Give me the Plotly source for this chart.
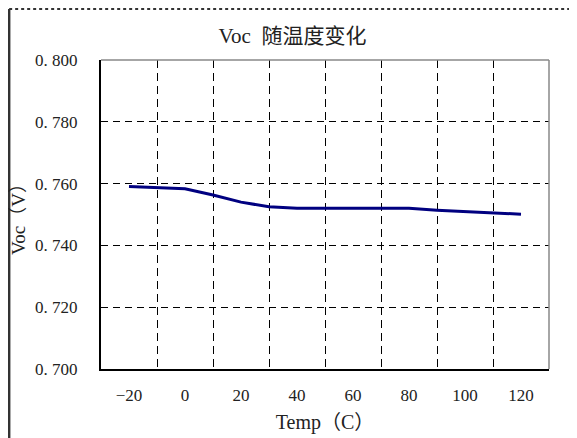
import plotly.graph_objects as go

# temperature sweep and open-circuit voltage
temps = [-20, -10, 0, 10, 20, 30, 40, 50, 60, 70, 80, 90, 100, 110, 120]
voc = [0.7591, 0.7587, 0.7583, 0.7563, 0.7540, 0.7525, 0.7520, 0.7520,
       0.7520, 0.7520, 0.7520, 0.7514, 0.7510, 0.7506, 0.7501]

x_ticks = [-20, 0, 20, 40, 60, 80, 100, 120]
x_grid = [-10, 10, 30, 50, 70, 90, 110]
y_ticks = [0.70, 0.72, 0.74, 0.76, 0.78, 0.80]
y_labels = ["0. 700", "0. 720", "0. 740", "0. 760", "0. 780", "0. 800"]

serif = "Liberation Serif, Noto Sans CJK SC, serif"

fig = go.Figure()
fig.add_trace(go.Scatter(
    x=temps, y=voc, mode="lines",
    line=dict(color="#000080", width=3),
    showlegend=False,
))

# page body has an 8px margin, so the figure is 8px smaller and offset
fig.update_layout(
    width=569, height=430,
    margin=dict(l=93, r=28, t=52, b=69),
    paper_bgcolor="white", plot_bgcolor="white",
    font=dict(family=serif, color="#222", size=16),
    title=dict(text="Voc  随温度变化", x=0.5, xanchor="center",
               y=0.935, yanchor="middle",
               font=dict(size=21, family=serif, color="#222")),
    xaxis=dict(
        range=[-30, 130], tickvals=x_ticks, ticks="",
        showgrid=False, zeroline=False, automargin=False,
        minor=dict(tickvals=x_grid, showgrid=True, gridcolor="black",
                   griddash="8px,5px", gridwidth=1, ticks=""),
        showline=True, linecolor="black", linewidth=2, mirror=False,
        ticklabelstandoff=10,
        title=dict(text="Temp（C）", font=dict(size=20), standoff=11),
        tickfont=dict(size=17),
    ),
    yaxis=dict(
        range=[0.70, 0.80], tickvals=y_ticks, ticktext=y_labels, ticks="",
        showgrid=True, gridcolor="black", griddash="7px,5px", gridwidth=1,
        zeroline=False, automargin=False,
        showline=True, linecolor="black", linewidth=2,
        ticklabelstandoff=18,
        title=dict(text="Voc（V）", font=dict(size=19), standoff=4),
        tickfont=dict(size=17),
    ),
    shapes=[
        # top and right borders of the plot area
        dict(type="line", xref="paper", yref="paper", x0=0, x1=1, y0=1, y1=1,
             line=dict(color="#888", width=1.5)),
        dict(type="line", xref="paper", yref="paper", x0=1, x1=1, y0=0, y1=1,
             line=dict(color="#888", width=1.5)),
        # outer chart frame
        dict(type="line", xref="paper", yref="paper", x0=-0.205, x1=-0.205,
             y0=-0.3, y1=1.165, line=dict(color="#333", width=2.5)),
        dict(type="line", xref="paper", yref="paper", x0=-0.205, x1=1.1,
             y0=1.165, y1=1.165, line=dict(color="#333", width=2, dash="dot")),
    ],
)

fig.write_html("out.html")
